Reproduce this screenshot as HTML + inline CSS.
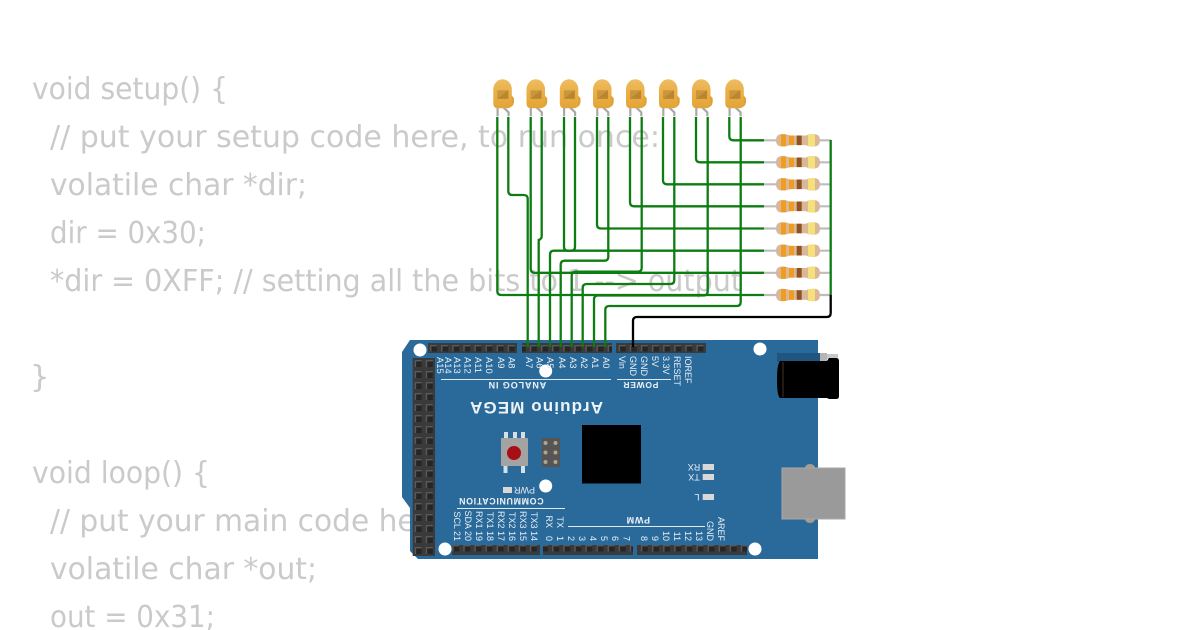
<!DOCTYPE html>
<html><head><meta charset="utf-8"><style>
html,body{margin:0;padding:0;background:#fff;width:1200px;height:630px;overflow:hidden}
svg{display:block;filter:blur(.2px)}
.c{font-family:"DejaVu Sans",sans-serif;font-size:30.5px;fill:#cacaca}
.l{font-family:"Liberation Sans",sans-serif;font-size:9px;fill:#e8eff5}
.a{font-size:9.4px}
.b{font-family:"Liberation Sans",sans-serif;font-weight:bold;fill:#eef3f7}
.w{fill:none;stroke:#0d7d12;stroke-width:2.3}
</style></head><body>
<svg width="1200" height="630" viewBox="0 0 1200 630" xmlns="http://www.w3.org/2000/svg">
<defs>
<pattern id="h" x="428" y="343" width="11.1" height="10" patternUnits="userSpaceOnUse"><rect width="11.1" height="10" fill="#3a3a3a"/><rect x="2" y="2" width="7" height="6.5" fill="#262626"/><path d="M2 2h7v1.400h-5.600v5.100H2z" fill="#5a5a5a"/></pattern>
<pattern id="v" x="412.7" y="358" width="11.1" height="11" patternUnits="userSpaceOnUse"><rect width="11.1" height="11" fill="#3a3a3a"/><rect x="2" y="2" width="7" height="7" fill="#262626"/><path d="M2 2h7v1.400h-5.600v5.600H2z" fill="#5a5a5a"/></pattern>
<linearGradient id="lg" x1="0" y1="0" x2="0" y2="1"><stop offset="0" stop-color="#efbc62"/><stop offset=".5" stop-color="#e9ae44"/><stop offset="1" stop-color="#e2a437"/></linearGradient>
<g id="led">
<path d="M4.300 28V37" stroke="#a8a8a8" stroke-width="2.200" fill="none"/>
<path d="M10 28L15.300 33V37" stroke="#a8a8a8" stroke-width="2.200" fill="none"/>
<path d="M15 15L18.500 16.500L20.700 19V23Q20 28 15 28.500z" fill="#dfa035"/>
<path d="M0 10A9.250 10 0 0 1 18.500 10V24Q18.500 29 14 29H4.500Q0 29 0 24z" fill="url(#lg)"/>
<rect x="4" y="11" width="11" height="8.500" fill="#c9963c"/>
<path d="M4 19.500L15 11V19.500z" fill="#b98530"/>
</g>
<g id="res">
<path d="M764 0H777M819 0H831" stroke="#bdbdbd" stroke-width="2.200"/>
<path d="M782 -6.200Q787 -6.200 790 -4.800H806Q809 -6.200 814 -6.200Q820 -6.200 820 0Q820 6.200 814 6.200Q809 6.200 806 4.800H790Q787 6.200 782 6.200Q776 6.200 776 0Q776 -6.200 782 -6.200z" fill="#d8b898"/>
<rect x="781" y="-6" width="5" height="12" fill="#f09c20"/>
<rect x="789" y="-4.800" width="5" height="9.600" fill="#f09c20"/>
<rect x="796.700" y="-4.800" width="5" height="9.600" fill="#8f5220"/>
<rect x="808" y="-6" width="7" height="12" fill="#f5e07a"/>
</g>
</defs>
<rect width="1200" height="630" fill="#fff"/>

<!-- code -->
<text class="c" x="32" y="99" textLength="196" lengthAdjust="spacingAndGlyphs">void setup() {</text>
<text class="c" x="50" y="147" textLength="610" lengthAdjust="spacingAndGlyphs">// put your setup code here, to run once:</text>
<text class="c" x="50" y="195" textLength="257" lengthAdjust="spacingAndGlyphs">volatile char *dir;</text>
<text class="c" x="50" y="243" textLength="156" lengthAdjust="spacingAndGlyphs">dir = 0x30;</text>
<text class="c" x="50" y="291" textLength="692" lengthAdjust="spacingAndGlyphs">*dir = 0XFF; // setting all the bits to 1 --&gt; output</text>
<text class="c" x="30" y="387">}</text>
<text class="c" x="32" y="483" textLength="178" lengthAdjust="spacingAndGlyphs">void loop() {</text>
<text class="c" x="50" y="531" textLength="680" lengthAdjust="spacingAndGlyphs">// put your main code here, to run repeatedly:</text>
<text class="c" x="50" y="579" textLength="267" lengthAdjust="spacingAndGlyphs">volatile char *out;</text>
<text class="c" x="50" y="627" textLength="165" lengthAdjust="spacingAndGlyphs">out = 0x31;</text>

<!-- board -->
<path d="M410 340H818V559H418L410 551V508L402 497V352z" fill="#2a6a9b"/>
<path d="M777 353H820V362H777z" fill="#1f557f"/>
<rect x="820" y="353" width="7" height="8" fill="#b5b5b5"/>
<rect x="827" y="354" width="11" height="5" fill="#c8c8c8"/>
<path d="M780 361H827L829 358H836Q839 358 839 361V396Q839 399 836 399H829L827 398H780Q777 396 777 380Q777 364 780 361z" fill="#000"/>
<path d="M783 362V397" stroke="#6a5a40" stroke-width=".6"/>
<ellipse cx="810" cy="468" rx="5" ry="4" fill="#a89c90"/>
<ellipse cx="810" cy="519" rx="5" ry="4" fill="#a89c90"/>
<rect x="782" y="468" width="63" height="51" fill="#9a9a9a" stroke="#a8a8a8"/>

<rect x="428" y="343" width="89" height="10" fill="url(#h)"/>
<rect x="522" y="343" width="90" height="10" fill="url(#h)"/>
<rect x="616" y="343" width="90" height="10" fill="url(#h)"/>
<rect x="412.700" y="358" width="22.300" height="198" fill="url(#v)"/>
<rect x="452" y="545" width="88" height="10" fill="url(#h)"/>
<rect x="543" y="545" width="90" height="10" fill="url(#h)"/>
<rect x="637" y="545" width="110" height="10" fill="url(#h)"/>

<g fill="#fff">
<circle cx="420" cy="350" r="6.500"/><circle cx="760" cy="349" r="6.500"/>
<circle cx="545.700" cy="371" r="6.500"/><circle cx="545.700" cy="486" r="6.500"/>
<circle cx="445" cy="549" r="6.500"/><circle cx="755" cy="549" r="6.500"/>
</g>
<rect x="582" y="425" width="59" height="58.500" fill="#000"/>
<g fill="#d5dfe6">
<rect x="504" y="432" width="4" height="7"/><rect x="513" y="432" width="4" height="7"/><rect x="521" y="432" width="4" height="7"/>
<rect x="503.500" y="465" width="4" height="8"/><rect x="521" y="465" width="4" height="8"/>
</g>
<rect x="501" y="438" width="27" height="28" fill="#a3a3a3"/>
<circle cx="514" cy="453" r="7" fill="#a80f14"/>
<rect x="541.700" y="438" width="18.300" height="29" fill="#555"/>
<g fill="#b0a58f"><circle cx="545.500" cy="443" r="2"/><circle cx="555.500" cy="443" r="2"/><circle cx="545.500" cy="452.500" r="2"/><circle cx="555.500" cy="452.500" r="2"/><circle cx="545.500" cy="462" r="2"/><circle cx="555.500" cy="462" r="2"/></g>
<g fill="#d8d8d8"><rect x="503" y="487" width="9" height="6"/><rect x="702.700" y="464" width="11.300" height="6"/><rect x="702.700" y="474" width="11.300" height="6"/><rect x="702.700" y="494" width="11.300" height="6"/></g>

<g stroke="#dfe9f2" stroke-width="1">
<path d="M441 379.500H611M617 379.500H671M457 508.500H565M568 526.500H705"/>
</g>

<!-- upside-down labels -->
<text class="b" font-size="17" letter-spacing="1.100" text-anchor="middle" transform="translate(536 402) rotate(180)">Arduino MEGA</text>
<text class="b" font-size="9" letter-spacing=".9" text-anchor="middle" transform="translate(517 382) rotate(180)">ANALOG IN</text>
<text class="b" font-size="8.500" letter-spacing=".7" text-anchor="middle" transform="translate(640.500 382) rotate(180)">POWER</text>
<text class="b" font-size="8.800" letter-spacing=".7" text-anchor="middle" transform="translate(501 498) rotate(180)">COMMUNICATION</text>
<text class="b" font-size="9" letter-spacing=".7" text-anchor="middle" transform="translate(638 517) rotate(180)">PWM</text>
<text class="l" text-anchor="middle" transform="translate(524.500 487) rotate(180)">PWR</text>
<text class="l" text-anchor="middle" transform="translate(694 464) rotate(180)">RX</text>
<text class="l" text-anchor="middle" transform="translate(694 474) rotate(180)">TX</text>
<text class="l" text-anchor="middle" transform="translate(697 494) rotate(180)">L</text>

<!-- pin labels rotated -->
<g>
<text class="l a" transform="translate(437 357) rotate(90)">A15</text>
<text class="l a" transform="translate(445 357) rotate(90)">A14</text>
<text class="l a" transform="translate(454 357) rotate(90)">A13</text>
<text class="l a" transform="translate(464.700 357) rotate(90)">A12</text>
<text class="l a" transform="translate(475 357) rotate(90)">A11</text>
<text class="l a" transform="translate(486 357) rotate(90)">A10</text>
<text class="l a" transform="translate(498 357) rotate(90)">A9</text>
<text class="l a" transform="translate(508.700 357) rotate(90)">A8</text>
<text class="l a" transform="translate(526 357) rotate(90)">A7</text>
<text class="l a" transform="translate(536.500 357) rotate(90)">A6</text>
<text class="l a" transform="translate(547 357) rotate(90)">A5</text>
<text class="l a" transform="translate(559 357) rotate(90)">A4</text>
<text class="l a" transform="translate(570 357) rotate(90)">A3</text>
<text class="l a" transform="translate(581 357) rotate(90)">A2</text>
<text class="l a" transform="translate(592 357) rotate(90)">A1</text>
<text class="l a" transform="translate(603 357) rotate(90)">A0</text>
<text class="l" transform="translate(619 356) rotate(90)">Vin</text>
<text class="l" transform="translate(630 356) rotate(90)">GND</text>
<text class="l" transform="translate(641 356) rotate(90)">GND</text>
<text class="l" transform="translate(652 356) rotate(90)">5V</text>
<text class="l" transform="translate(663 356) rotate(90)">3.3V</text>
<text class="l" transform="translate(674 356) rotate(90)">RESET</text>
<text class="l" transform="translate(685 356) rotate(90)">IOREF</text>
<text class="l" text-anchor="end" transform="translate(454 541) rotate(90)">SCL 21</text>
<text class="l" text-anchor="end" transform="translate(465 541) rotate(90)">SDA 20</text>
<text class="l" text-anchor="end" transform="translate(476 541) rotate(90)">RX1 19</text>
<text class="l" text-anchor="end" transform="translate(487 541) rotate(90)">TX1 18</text>
<text class="l" text-anchor="end" transform="translate(498 541) rotate(90)">RX2 17</text>
<text class="l" text-anchor="end" transform="translate(509 541) rotate(90)">TX2 16</text>
<text class="l" text-anchor="end" transform="translate(520 541) rotate(90)">RX3 15</text>
<text class="l" text-anchor="end" transform="translate(531 541) rotate(90)">TX3 14</text>
<text class="l" text-anchor="end" transform="translate(546 528) rotate(90)">RX</text>
<text class="l" text-anchor="end" transform="translate(546 541) rotate(90)">0</text>
<text class="l" text-anchor="end" transform="translate(557 528) rotate(90)">TX</text>
<text class="l" text-anchor="end" transform="translate(557 541) rotate(90)">1</text>
<text class="l" text-anchor="end" transform="translate(568 541) rotate(90)">2</text>
<text class="l" text-anchor="end" transform="translate(579 541) rotate(90)">3</text>
<text class="l" text-anchor="end" transform="translate(590 541) rotate(90)">4</text>
<text class="l" text-anchor="end" transform="translate(601 541) rotate(90)">5</text>
<text class="l" text-anchor="end" transform="translate(612 541) rotate(90)">6</text>
<text class="l" text-anchor="end" transform="translate(623.700 541) rotate(90)">7</text>
<text class="l" text-anchor="end" transform="translate(641 541) rotate(90)">8</text>
<text class="l" text-anchor="end" transform="translate(652 541) rotate(90)">9</text>
<text class="l" text-anchor="end" transform="translate(663 541) rotate(90)">10</text>
<text class="l" text-anchor="end" transform="translate(674 541) rotate(90)">11</text>
<text class="l" text-anchor="end" transform="translate(685 541) rotate(90)">12</text>
<text class="l" text-anchor="end" transform="translate(696 541) rotate(90)">13</text>
<text class="l" text-anchor="end" transform="translate(707 541) rotate(90)">GND</text>
<text class="l" text-anchor="end" transform="translate(718 541) rotate(90)">AREF</text>
</g>

<!-- LEDs -->
<use href="#led" x="493.300" y="79.300"/>
<use href="#led" x="526.500" y="79.300"/>
<use href="#led" x="559.800" y="79.300"/>
<use href="#led" x="593" y="79.300"/>
<use href="#led" x="626" y="79.300"/>
<use href="#led" x="659" y="79.300"/>
<use href="#led" x="692" y="79.300"/>
<use href="#led" x="725.300" y="79.300"/>

<!-- resistors -->
<use href="#res" y="140.300"/><use href="#res" y="162.300"/><use href="#res" y="184.300"/><use href="#res" y="206.300"/>
<use href="#res" y="228.500"/><use href="#res" y="250.700"/><use href="#res" y="272.800"/><use href="#res" y="295"/>

<!-- wires -->
<g class="w">
<path d="M497.300 117V291Q497.300 295 501.300 295H764"/>
<path d="M508.300 117V191Q508.300 195 512.300 195H523.700Q527.700 195 527.700 199V347"/>
<path d="M530.700 117V268.700Q530.700 272.800 534.700 272.800H764"/>
<path d="M541.700 117V236Q541.700 239 538.700 240V347"/>
<path d="M564 117V246.700Q564 250.700 568 250.700H571Q575 250.700 575 246.700V117"/>
<path d="M550 347V254.700Q550 250.700 554 250.700H764"/>
<path d="M597 117V224.500Q597 228.500 601 228.500H764"/>
<path d="M608.300 117V256.700Q608.300 260.700 604.300 260.700H564.700Q560.700 260.700 560.700 264.700V347"/>
<path d="M630 117V202.300Q630 206.300 634 206.300H764"/>
<path d="M641.700 117V267.700Q641.700 271.700 637.700 271.700H575.700Q571.700 271.700 571.700 275.700V347"/>
<path d="M663 117V180.300Q663 184.300 667 184.300H764"/>
<path d="M674.300 117V280Q674.300 284 670.300 284H586.700Q582.700 284 582.700 288V347"/>
<path d="M696 117V158.300Q696 162.300 700 162.300H764"/>
<path d="M707.700 117V291Q707.700 295.500 703.700 295.500H598Q594 295.500 594 299.500V347"/>
<path d="M729.300 117V136.300Q729.300 140.300 733.300 140.300H764"/>
<path d="M740.700 117V302Q740.700 306 736.700 306H609.300Q605.300 306 605.300 310V347"/>
<path d="M830.700 140V295"/>
</g>
<path d="M830.700 295V313Q830.700 317 826.700 317H637Q633 317 633 321V347" fill="none" stroke="#000" stroke-width="2.300"/>
</svg>
</body></html>
